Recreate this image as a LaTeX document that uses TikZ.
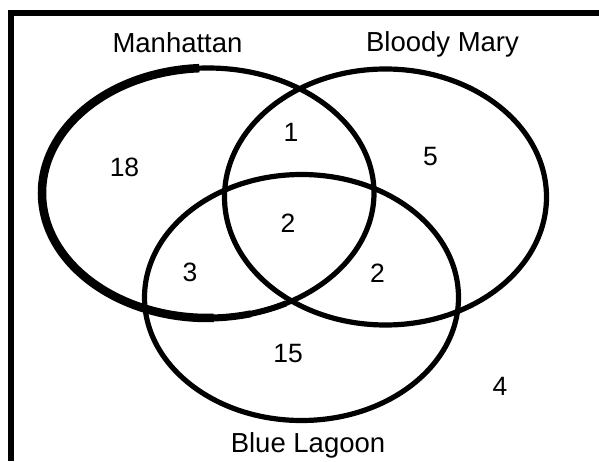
\documentclass[tikz,border=0pt]{standalone}
\usepackage{fontspec}
\setmainfont{Liberation Sans}
\usetikzlibrary{calc}
\begin{document}
\begin{tikzpicture}[x=1pt,y=1pt,
  setline/.style={draw=black,line width=5.2pt},
  setname/.style={anchor=base,inner sep=0pt,font=\fontsize{27.5}{32}\selectfont},
  count/.style={anchor=base,inner sep=0pt,font=\fontsize{26.5}{30}\selectfont}]
\useasboundingbox (0,0) rectangle (599,461);
% universe frame (open to the right and bottom)
\draw[line width=5.8pt,line join=miter] (599,448) -- (11.3,448) -- (11.3,0);
% the three sets
\draw[setline] (208,268) ellipse [x radius=166,y radius=125];
\draw[setline] (385.5,264) ellipse [x radius=161,y radius=128];
\draw[setline] (301.5,163.5) ellipse [x radius=157,y radius=123];
% heavier stroke on the left side of Manhattan, fading out at the bottom
\draw[line width=8.5pt] ($(208,268)+(93:166 and 125)$) arc[start angle=93,end angle=272,x radius=166,y radius=125];
\draw[line width=7pt] ($(208,268)+(271:166 and 125)$) arc[start angle=271,end angle=285,x radius=166,y radius=125];
\draw[line width=6pt] ($(208,268)+(284:166 and 125)$) arc[start angle=284,end angle=298,x radius=166,y radius=125];
% set names
\node[setname] (manhattan) at (177.5,408) {Manhattan};
\node[setname] (bloody) at (442.5,409) {Bloody Mary};
\node[setname] (lagoon) at (308,9) {Blue Lagoon};
% region counts
\node[count] (onlyM) at (124.5,284) {18};
\node[count] (MB) at (291,319) {1};
\node[count] (onlyB) at (430.5,295) {5};
\node[count] (all) at (288,229) {2};
\node[count] (ML) at (190,180) {3};
\node[count] (BL) at (377.5,179) {2};
\node[count] (onlyL) at (288,99) {15};
\node[count] (none) at (500,66) {4};
\end{tikzpicture}
\end{document}
